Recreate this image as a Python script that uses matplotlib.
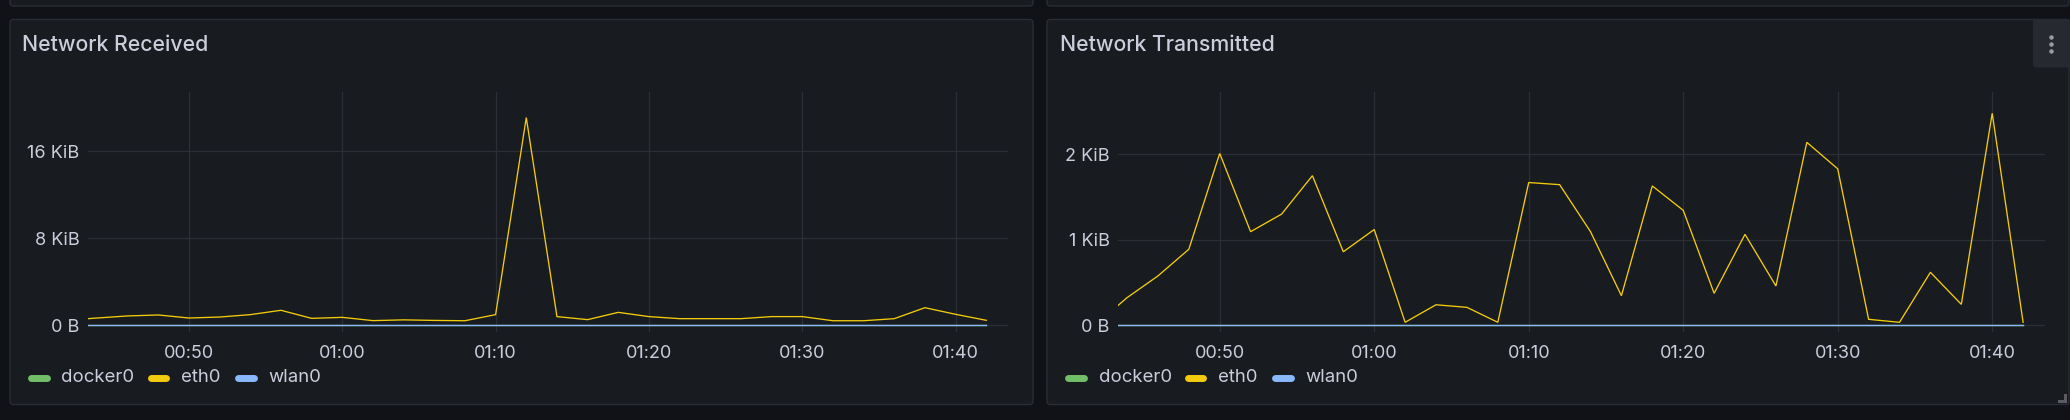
import matplotlib
matplotlib.use("Agg")
import matplotlib.pyplot as plt
from matplotlib.patches import FancyBboxPatch, Rectangle
from datetime import datetime

# ---------------- data ----------------
times = ["00:42", "00:44", "00:46", "00:48", "00:50", "00:52", "00:54", "00:56",
         "00:58", "01:00", "01:02", "01:04", "01:06", "01:08", "01:10", "01:12",
         "01:14", "01:16", "01:18", "01:20", "01:22", "01:24", "01:26", "01:28",
         "01:30", "01:32", "01:34", "01:36", "01:38", "01:40", "01:42"]

series_names = ["docker0", "eth0", "wlan0"]
series_colors = ["#73BF69", "#F2CC0C", "#8AB8FF"]

# Network Received (KiB)
rx_docker0 = [0.0] * 31
rx_eth0 = [0.46, 0.67, 0.86, 0.95, 0.67, 0.76, 0.98, 1.38,
           0.64, 0.73, 0.43, 0.50, 0.45, 0.42, 0.98, 19.1,
           0.80, 0.52, 1.19, 0.80, 0.61, 0.61, 0.61, 0.80,
           0.80, 0.42, 0.42, 0.61, 1.62, 1.01, 0.46]
rx_wlan0 = [0.0] * 31

# Network Transmitted (KiB)
tx_docker0 = [0.0] * 31
tx_eth0 = [0.01, 0.323, 0.577, 0.889, 2.01, 1.095, 1.30, 1.75,
           0.86, 1.12, 0.035, 0.24, 0.21, 0.035, 1.67, 1.645,
           1.095, 0.346, 1.63, 1.345, 0.374, 1.064, 0.46, 2.14,
           1.83, 0.07, 0.035, 0.62, 0.245, 2.48, 0.035]
tx_wlan0 = [0.0] * 31

x_ticks = ["00:50", "01:00", "01:10", "01:20", "01:30", "01:40"]
rx_yticks = [0, 8, 16]
tx_yticks = [0, 1, 2]

# ---------------- style ----------------
BG = "#111217"
PANEL = "#181b1f"
BORDER = "#2a2d33"
GRID = "#2b2e34"
TEXT = "#ccccdc"
FONT = ["Inter", "DejaVu Sans"]
plt.rcParams["font.family"] = FONT

W, H = 2070, 420
fig = plt.figure(figsize=(W / 100, H / 100), dpi=100, facecolor=BG)

# background canvas in pixel coordinates
bg = fig.add_axes([0, 0, 1, 1], zorder=0)
bg.set_xlim(0, W)
bg.set_ylim(H, 0)
bg.axis("off")
bg.set_facecolor(BG)


def panel(x0, y0, x1, y1):
    p = FancyBboxPatch((x0, y0), x1 - x0, y1 - y0,
                       boxstyle="round,pad=0,rounding_size=3",
                       facecolor=PANEL, edgecolor=BORDER, linewidth=1.0)
    bg.add_patch(p)


# top (partially visible) panels
panel(10, -30, 1033, 6)
panel(1047, -30, 2069, 6)
# main panels
panel(10, 19.5, 1033, 404.5)
panel(1047, 19.5, 2069, 404.5)

# menu button on right panel
bg.add_patch(FancyBboxPatch((2033, 19.5), 40, 48, boxstyle="round,pad=0,rounding_size=3",
                            facecolor="#26292f", edgecolor="none"))
for yy in (37, 44, 51):
    bg.plot([2051], [yy], marker="o", ms=3.2, color="#9b9ba8", mec="none")
# resize handle
bg.add_patch(Rectangle((2064, 394), 3, 9, facecolor="#5a5c62", edgecolor="none"))
bg.add_patch(Rectangle((2058, 400), 9, 3, facecolor="#5a5c62", edgecolor="none"))


def to_dt(s):
    h, m = s.split(":")
    return datetime(2024, 1, 1, int(h), int(m))


tdt = [to_dt(t) for t in times]
xmin = datetime(2024, 1, 1, 0, 43, 25)
xmax = datetime(2024, 1, 1, 1, 43, 25)


def ylabel_fmt(v):
    return "0 B" if v == 0 else f"{v:g} KiB"


def make_panel(px0, px1, title, tx, ys, yticks, ytop, ybot, legend_x):
    py0, py1 = 92, 331.7
    ax = fig.add_axes([px0 / W, 1 - py1 / H, (px1 - px0) / W, (py1 - py0) / H], zorder=2)
    ax.set_facecolor("none")
    for s in ax.spines.values():
        s.set_visible(False)
    for name, color, vals in zip(series_names, series_colors, ys):
        ax.plot(tdt, vals, color=color, lw=0.95, solid_joinstyle="miter")
    ax.set_xlim(xmin, xmax)
    ax.set_ylim(ybot, ytop)
    ax.set_yticks(yticks)
    ax.set_yticklabels([ylabel_fmt(v) for v in yticks])
    ax.set_xticks([to_dt(t) for t in x_ticks])
    ax.set_xticklabels(x_ticks)
    ax.grid(True, color=GRID, lw=0.9)
    ax.set_axisbelow(True)
    ax.tick_params(length=0, labelsize=13, colors=TEXT)
    ax.tick_params(axis="x", pad=9.5)
    ax.tick_params(axis="y", pad=6)
    # title
    bg.text(tx, 45, title, color=TEXT, fontsize=15.3, fontweight="medium",
            va="center", ha="left")
    # legend
    offs = [(0, 21, 33.5), (120, 140, 152.5), (207, 228, 240)]
    for (m0, m1, t0), name, color in zip(offs, series_names, series_colors):
        bg.plot([legend_x + m0 + 2.5, legend_x + m1 - 2.5], [377.5, 377.5], color=color,
                lw=5, solid_capstyle="round")
        bg.text(legend_x + t0, 377.5, name, color=TEXT, fontsize=13.4, va="center", ha="left")
    return ax


make_panel(88, 1008, "Network Received", 22, [rx_docker0, rx_eth0, rx_wlan0],
           rx_yticks, 233.3 / 10.875, -6.4 / 10.875, 28)
make_panel(1118, 2045, "Network Transmitted", 1059.5, [tx_docker0, tx_eth0, tx_wlan0],
           tx_yticks, 233.3 / 85.5, -6.4 / 85.5, 1065.5)

fig.savefig("out.png", dpi=100, facecolor=BG)
